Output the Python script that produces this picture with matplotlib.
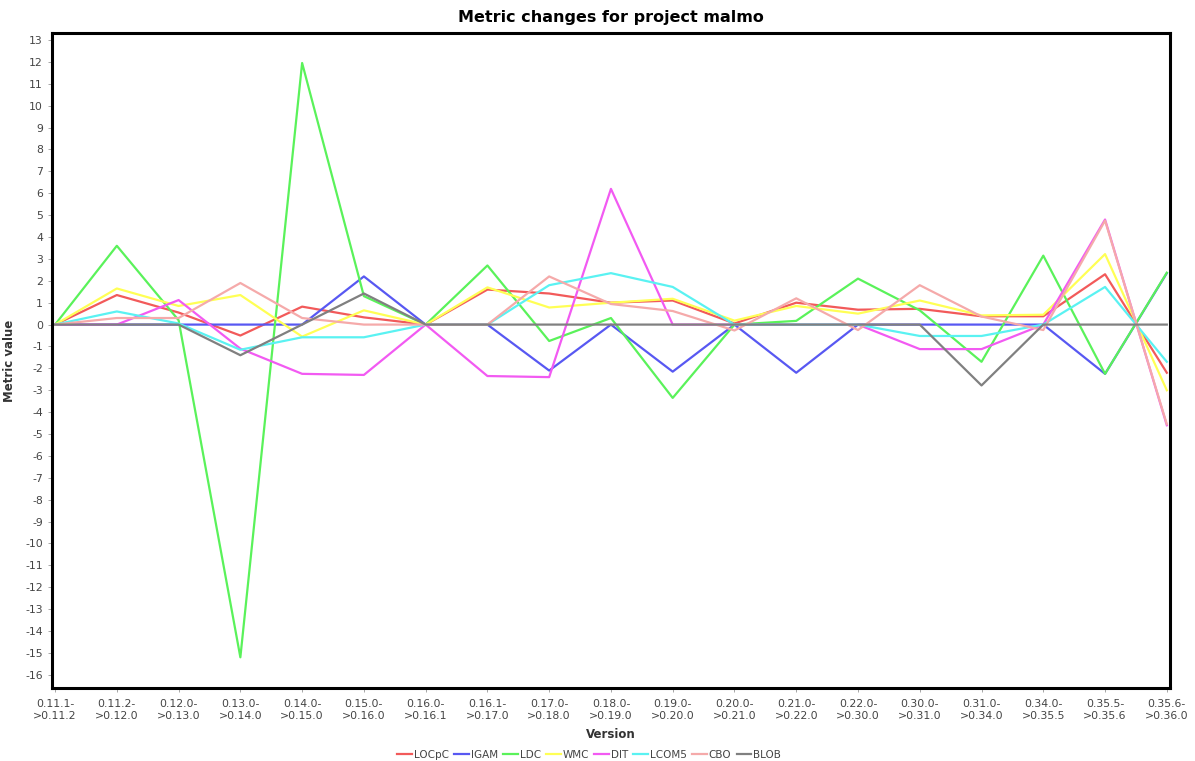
import numpy as np
import matplotlib
matplotlib.use("Agg")
import matplotlib.pyplot as plt

plt.rcParams["axes.unicode_minus"] = False

versions = ["0.11.1-\n>0.11.2", "0.11.2-\n>0.12.0", "0.12.0-\n>0.13.0", "0.13.0-\n>0.14.0",
            "0.14.0-\n>0.15.0", "0.15.0-\n>0.16.0", "0.16.0-\n>0.16.1", "0.16.1-\n>0.17.0",
            "0.17.0-\n>0.18.0", "0.18.0-\n>0.19.0", "0.19.0-\n>0.20.0", "0.20.0-\n>0.21.0",
            "0.21.0-\n>0.22.0", "0.22.0-\n>0.30.0", "0.30.0-\n>0.31.0", "0.31.0-\n>0.34.0",
            "0.34.0-\n>0.35.5", "0.35.5-\n>0.35.6", "0.35.6-\n>0.36.0"]

locpc = [0, 1.35, 0.55, -0.5, 0.82, 0.33, 0, 1.6, 1.42, 1.0, 1.1, 0.05, 1.0, 0.68, 0.72, 0.38, 0.38, 2.3, -2.2]
igam  = [0, 0, 0, 0, 0, 2.2, 0, 0, -2.1, 0, -2.15, 0, -2.2, 0, 0, 0, 0, -2.25, 2.35]
ldc   = [0, 3.6, 0.2, -15.2, 11.95, 1.3, 0, 2.7, -0.75, 0.3, -3.35, 0, 0.17, 2.1, 0.65, -1.7, 3.15, -2.25, 2.37]
wmc   = [0, 1.65, 0.85, 1.35, -0.55, 0.65, 0, 1.7, 0.78, 1.0, 1.18, 0.18, 0.85, 0.5, 1.1, 0.42, 0.45, 3.22, -3.0]
dit   = [0, 0, 1.12, -1.1, -2.25, -2.3, 0, -2.35, -2.4, 6.2, 0, 0, 0, 0, -1.12, -1.12, 0, 4.8, -4.6]
lcom5 = [0, 0.6, 0.05, -1.15, -0.58, -0.58, 0, 0, 1.8, 2.35, 1.72, 0, 0, 0, -0.52, -0.52, 0, 1.72, -1.7]
cbo   = [0, 0.3, 0.3, 1.9, 0.3, 0, 0, 0, 2.2, 0.94, 0.62, -0.27, 1.2, -0.25, 1.8, 0.37, -0.25, 4.75, -4.55]
blob  = [0, 0, 0, -1.4, 0, 1.42, 0, 0, 0, 0, 0, 0, 0, 0, 0, -2.78, 0, 0, 0]

series = [("LOCpC", locpc, "#F25A5A"), ("IGAM", igam, "#5858F2"), ("LDC", ldc, "#5AF25A"),
          ("WMC", wmc, "#FFFF55"), ("DIT", dit, "#F25AF2"), ("LCOM5", lcom5, "#5AF2F2"),
          ("CBO", cbo, "#F5AAAA"), ("BLOB", blob, "#808080")]

fig = plt.figure(figsize=(11.95, 7.61), dpi=100)
ax = fig.add_axes([0.0435, 0.096, 0.9355, 0.8606])

x = np.arange(len(versions))
for name, vals, col in series:
    ax.plot(x, vals, color=col, lw=1.6, label=name)

ax.set_xlim(-0.05, 18.05)
ax.set_ylim(-16.6, 13.32)
ax.set_yticks(np.arange(-16, 14, 1))
ax.set_xticks(x)
ax.set_xticklabels(versions)
ax.tick_params(axis="both", labelsize=7.8, labelcolor="#444444", color="#999999", length=3, width=0.6)
ax.tick_params(axis="x", pad=5)
for s in ax.spines.values():
    s.set_linewidth(2.2)
    s.set_color("black")

ax.set_title("Metric changes for project malmo", fontsize=11.5, fontweight="bold", pad=8)
ax.set_xlabel("Version", fontsize=8.5, fontweight="bold", color="#333333", labelpad=5)
ax.set_ylabel("Metric value", fontsize=8.5, fontweight="bold", color="#333333")
ax.yaxis.set_label_coords(-0.032, 0.5)

fig.legend(loc="lower center", bbox_to_anchor=(0.493, -0.011), ncol=8, frameon=False,
           fontsize=7.5, handlelength=1.4, handletextpad=0.2, columnspacing=0.5,
           labelcolor="#444444")

fig.savefig("out.png", dpi=100)
